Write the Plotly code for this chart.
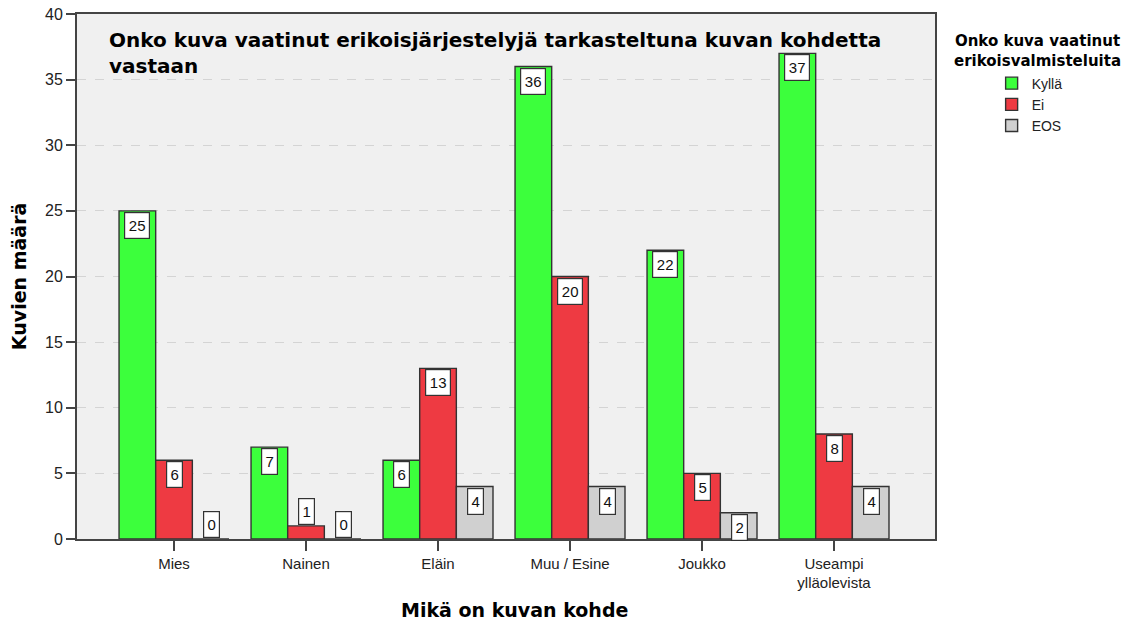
import plotly.graph_objects as go

categories = ["Mies", "Nainen", "Eläin", "Muu / Esine", "Joukko", "Useampi<br>ylläolevista"]
series_names = ["Kyllä", "Ei", "EOS"]
kylla = [25, 7, 6, 36, 22, 37]
ei = [6, 1, 13, 20, 5, 8]
eos = [0, 0, 4, 4, 2, 4]
colors = ["#3cff3c", "#ee3a42", "#d0d0d0"]

values = [kylla, ei, eos]

SANS = "Liberation Sans, Arial, sans-serif"
WIDE = "DejaVu Sans, Verdana, sans-serif"

fig = go.Figure()
for name, vals, col in zip(series_names, values, colors):
    fig.add_trace(go.Bar(
        x=categories, y=vals, name=name,
        marker=dict(color=col, line=dict(color="#333333", width=1.4)),
    ))

# value labels as boxed annotations
shifts = [-37, 0, 37]
for vals, sh in zip(values, shifts):
    for c, v in zip(categories, vals):
        inside = v >= 2
        fig.add_annotation(
            x=c, y=v, xref="x", yref="y", xshift=sh,
            yshift=-1 if inside else 1,
            yanchor="top" if inside else "bottom",
            text=str(v), showarrow=False,
            width=11 if v < 10 else 20, height=21,
            font=dict(family=SANS, size=15, color="#111"),
            bgcolor="white", bordercolor="#333", borderwidth=1.2, borderpad=2,
        )

# chart title inside plot area
fig.add_annotation(
    x=0.035, y=0.978, xref="paper", yref="paper", xanchor="left", yanchor="top",
    text="<b>Onko kuva vaatinut erikoisjärjestelyjä tarkasteltuna kuvan kohdetta<br>vastaan</b>",
    showarrow=False, align="left",
    font=dict(family=WIDE, size=20, color="#000"),
)

# axis titles
fig.add_annotation(
    x=-0.068, y=0.5, xref="paper", yref="paper", xanchor="center", yanchor="middle",
    text="<b>Kuvien määrä</b>", textangle=-90, showarrow=False,
    font=dict(family=WIDE, size=19, color="#000"),
)
fig.add_annotation(
    x=0.51, y=-0.135, xref="paper", yref="paper", xanchor="center", yanchor="middle",
    text="<b>Mikä on kuvan kohde</b>", showarrow=False,
    font=dict(family=WIDE, size=19, color="#000"),
)

# legend title
fig.add_annotation(
    x=1.119, y=0.97, xref="paper", yref="paper", xanchor="center", yanchor="top",
    text="<b>Onko kuva vaatinut<br>erikoisvalmisteluita</b>", showarrow=False,
    font=dict(family=WIDE, size=15, color="#000"),
)

fig.update_layout(
    width=1132, height=621,
    margin=dict(l=77, r=197, t=14, b=82),
    paper_bgcolor="white", plot_bgcolor="#f0f0f0",
    barmode="group", bargap=0.167, bargroupgap=0,
    font=dict(family=SANS, size=15, color="#222"),
    showlegend=True,
    legend=dict(
        x=1.066, y=0.898, xanchor="left", yanchor="top",
        font=dict(family=SANS, size=14, color="#222"),
        itemwidth=30, tracegroupgap=0, bgcolor="rgba(0,0,0,0)",
    ),
    xaxis=dict(
        range=[-0.735, 5.765], showline=True, linecolor="#444", linewidth=1.5, mirror=True,
        ticks="outside", ticklen=10, tickcolor="#444", tickwidth=1.5,
        tickfont=dict(family=SANS, size=15, color="#222"),
        automargin=False,
    ),
    yaxis=dict(
        range=[0, 40], dtick=5, showline=True, linecolor="#444", linewidth=1.8, mirror=True,
        ticks="outside", ticklen=9, tickcolor="#444", tickwidth=1.5,
        showgrid=True, gridcolor="#d4d4d4", griddash="dash", gridwidth=1,
        zeroline=False,
        tickfont=dict(family=SANS, size=16, color="#222"),
        automargin=False,
    ),
)

fig.write_html(
    "out.html",
    config={"displayModeBar": False},
    post_script="document.body.style.margin='0px';",
)
